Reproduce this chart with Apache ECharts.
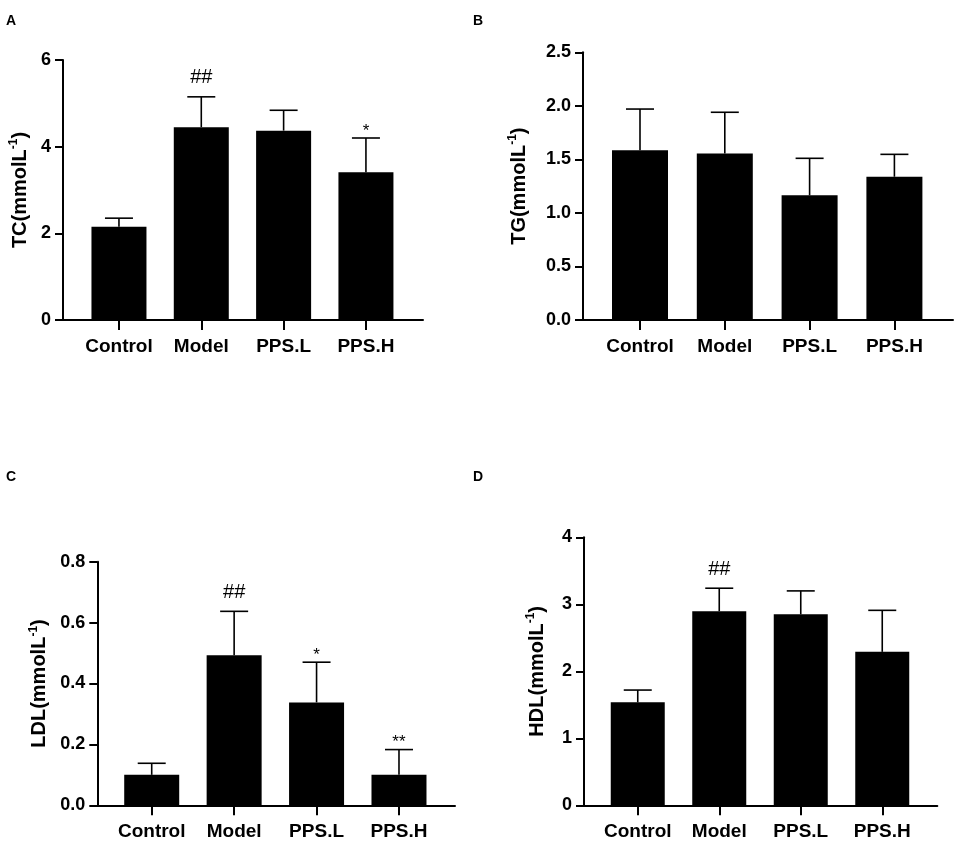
<!DOCTYPE html>
<html>
<head>
<meta charset="utf-8">
<title>Serum lipids</title>
<script src="https://cdn.jsdelivr.net/npm/echarts@6/dist/echarts.min.js"></script>
<style>
  html, body { margin: 0; padding: 0; background: #fff; }
  #chart { width: 957px; height: 842px; }
</style>
</head>
<body>
<div id="chart"></div>
<script>
// groups on the x axis
var categories = ['Control', 'Model', 'PPS.L', 'PPS.H'];

// A - TC
var tcMean = [2.15, 4.45, 4.37, 3.41];
var tcErr = [0.20, 0.70, 0.47, 0.79];
var tcMark = ['', '##', '', '*'];
var tcTicks = [0, 2, 4, 6];

// B - TG
var tgMean = [1.585, 1.556, 1.164, 1.338];
var tgErr = [0.385, 0.384, 0.346, 0.209];
var tgMark = ['', '', '', ''];
var tgTicks = [0.0, 0.5, 1.0, 1.5, 2.0, 2.5];

// C - LDL
var ldlMean = [0.100, 0.493, 0.338, 0.100];
var ldlErr = [0.038, 0.144, 0.132, 0.083];
var ldlMark = ['', '##', '*', '**'];
var ldlTicks = [0.0, 0.2, 0.4, 0.6, 0.8];

// D - HDL
var hdlMean = [1.537, 2.896, 2.85, 2.29];
var hdlErr = [0.183, 0.344, 0.35, 0.62];
var hdlMark = ['', '##', '', ''];
var hdlTicks = [0, 1, 2, 3, 4];

var FONT = 'Liberation Sans, Arial, sans-serif';

// layout of each panel (pixels): axis frame and bar band area
var panels = [
  { letter: 'A', lx: 6, ly: 14, name: 'TC', mean: tcMean, err: tcErr, mark: tcMark, ticks: tcTicks, dec: 0,
    frame: { left: 63, top: 60, width: 360, height: 260 }, bars: { left: 77.8, width: 329.3 }, barWidth: 55, nameGap: 31 },
  { letter: 'B', lx: 473, ly: 14, name: 'TG', mean: tgMean, err: tgErr, mark: tgMark, ticks: tgTicks, dec: 1,
    frame: { left: 583, top: 52.3, width: 370, height: 267.7 }, bars: { left: 597.6, width: 339.2 }, barWidth: 56, nameGap: 52 },
  { letter: 'C', lx: 6, ly: 470, name: 'LDL', mean: ldlMean, err: ldlErr, mark: ldlMark, ticks: ldlTicks, dec: 1,
    frame: { left: 97.3, top: 561.7, width: 357.7, height: 243.6 }, bars: { left: 110.5, width: 329.7 }, barWidth: 55, nameGap: 46 },
  { letter: 'D', lx: 473, ly: 470, name: 'HDL', mean: hdlMean, err: hdlErr, mark: hdlMark, ticks: hdlTicks, dec: 0,
    frame: { left: 584, top: 537.3, width: 353.3, height: 268 }, bars: { left: 597, width: 326 }, barWidth: 54, nameGap: 35 }
];

var grid = [], xAxis = [], yAxis = [], series = [], graphic = [];

panels.forEach(function(p, k) {
  var fi = 2 * k, bi = 2 * k + 1;
  var ticks = p.ticks;
  var yMin = ticks[0], yMax = ticks[ticks.length - 1], step = ticks[1] - ticks[0];

  grid.push({ left: p.frame.left, top: p.frame.top, width: p.frame.width, height: p.frame.height });
  grid.push({ left: p.bars.left, top: p.frame.top, width: p.bars.width, height: p.frame.height });

  // frame: axis lines, y ticks, y name
  xAxis.push({
    type: 'value', gridIndex: fi, min: 0, max: 1,
    axisLine: { show: true, onZero: false, lineStyle: { color: '#000', width: 2 } },
    axisTick: { show: false }, axisLabel: { show: false }, splitLine: { show: false }
  });
  yAxis.push({
    type: 'value', gridIndex: fi, min: yMin, max: yMax, interval: step,
    axisLine: { show: true, lineStyle: { color: '#000', width: 2 } },
    axisTick: { show: true, length: 8, lineStyle: { color: '#000', width: 2 } },
    axisLabel: {
      color: '#000', fontFamily: FONT, fontWeight: 'bold', fontSize: 18, margin: 12,
      formatter: function(v) { return v.toFixed(p.dec); }
    },
    splitLine: { show: false },
    name: '{m|' + p.name + '(mmolL}{s|-1}{m|)}',
    nameLocation: 'middle', nameGap: p.nameGap,
    nameTextStyle: {
      rich: {
        m: { fontFamily: FONT, fontWeight: 'bold', fontSize: 20, lineHeight: 24, color: '#000' },
        s: { fontFamily: FONT, fontWeight: 'bold', fontSize: 12, lineHeight: 24, verticalAlign: 'top', color: '#000' }
      }
    }
  });

  // bars: category ticks + labels
  xAxis.push({
    type: 'category', gridIndex: bi, data: categories,
    axisLine: { show: false },
    axisTick: { show: true, alignWithLabel: true, length: 10, lineStyle: { color: '#000', width: 2 } },
    axisLabel: { interval: 0, color: '#000', fontFamily: FONT, fontWeight: 'bold', fontSize: 19, margin: 17 }
  });
  yAxis.push({ type: 'value', gridIndex: bi, min: yMin, max: yMax, show: false });

  series.push({
    type: 'bar', xAxisIndex: bi, yAxisIndex: bi,
    data: p.mean, barWidth: p.barWidth,
    itemStyle: { color: '#000' }, silent: true
  });

  series.push({
    type: 'custom', xAxisIndex: bi, yAxisIndex: bi, silent: true, z: 3,
    data: p.mean.map(function(m, i) { return [i, m, p.err[i]]; }),
    renderItem: function(params, api) {
      var i = api.value(0), m = api.value(1), e = api.value(2);
      var b = api.coord([i, m]);
      var t = api.coord([i, m + e]);
      var ls = { stroke: '#000', lineWidth: 1.6 };
      var kids = [
        { type: 'line', shape: { x1: b[0], y1: b[1], x2: t[0], y2: t[1] }, style: ls },
        { type: 'line', shape: { x1: t[0] - 14, y1: t[1], x2: t[0] + 14, y2: t[1] }, style: ls }
      ];
      var txt = p.mark[params.dataIndex];
      if (txt) {
        var hash = txt.charAt(0) === '#';
        kids.push({
          type: 'text',
          style: {
            text: txt, x: t[0], y: t[1] - (hash ? 19 : 7),
            align: 'center', verticalAlign: 'middle',
            fontFamily: FONT, fontSize: hash ? 20 : 17, fill: '#000'
          }
        });
      }
      return { type: 'group', children: kids };
    }
  });

  graphic.push({
    type: 'text', left: p.lx, top: p.ly,
    style: { text: p.letter, fontFamily: FONT, fontWeight: 'bold', fontSize: 14, fill: '#000' }
  });
});

var chart = echarts.init(document.getElementById('chart'));
chart.setOption({
  backgroundColor: '#fff',
  animation: false,
  grid: grid,
  xAxis: xAxis,
  yAxis: yAxis,
  series: series,
  graphic: graphic
});
</script>
</body>
</html>
